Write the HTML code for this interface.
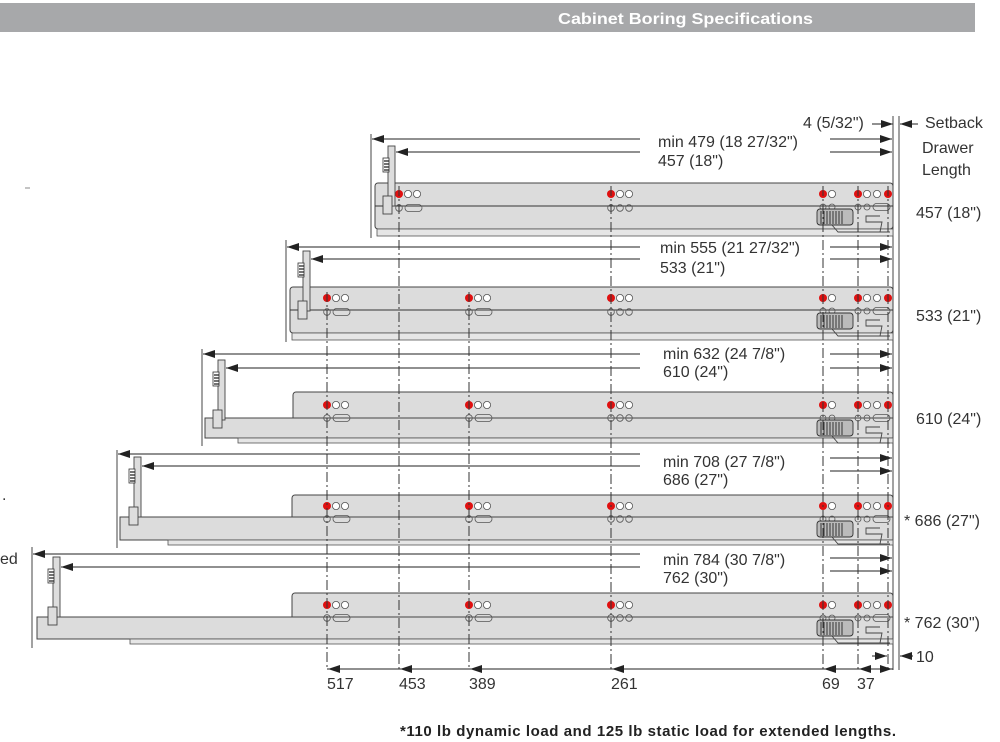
<!DOCTYPE html>
<html><head><meta charset="utf-8"><style>
html,body{margin:0;padding:0;background:#fff;}
svg{display:block;font-family:"Liberation Sans",sans-serif;}
.t{font-size:16px;fill:#333;}
</style></head><body>
<svg width="1000" height="742" viewBox="0 0 1000 742" xmlns="http://www.w3.org/2000/svg">
<defs>
<marker id="ar" markerWidth="12" markerHeight="8" refX="12" refY="4" orient="auto" markerUnits="userSpaceOnUse"><path d="M0,0 L12,4 L0,8 z" fill="#222"/></marker>
<g id="hole3"><circle cx="0" cy="0" r="4" fill="#e01010"/><circle cx="9" cy="0" r="3.6" fill="#fff" stroke="#555" stroke-width="0.8"/><circle cx="18" cy="0" r="3.6" fill="#fff" stroke="#555" stroke-width="0.8"/></g>
<g id="low3"><circle cx="0" cy="0" r="3.3" fill="none" stroke="#555" stroke-width="0.8"/><circle cx="9" cy="0" r="3.3" fill="none" stroke="#555" stroke-width="0.8"/><circle cx="18" cy="0" r="3.3" fill="none" stroke="#555" stroke-width="0.8"/></g>
<g id="lowslot"><circle cx="0" cy="0" r="3.3" fill="none" stroke="#555" stroke-width="0.8"/><rect x="6" y="-3.5" width="17" height="7" rx="3.5" fill="none" stroke="#555" stroke-width="0.8"/></g>
<g id="rightend">
<circle cx="823" cy="0" r="4" fill="#e01010"/><circle cx="832" cy="0" r="3.6" fill="#fff" stroke="#555" stroke-width="0.8"/>
<circle cx="858" cy="0" r="4" fill="#e01010"/><circle cx="867" cy="0" r="3.6" fill="#fff" stroke="#555" stroke-width="0.8"/><circle cx="877" cy="0" r="3.6" fill="#fff" stroke="#555" stroke-width="0.8"/><circle cx="888" cy="0" r="4" fill="#e01010"/>
<circle cx="823" cy="13" r="3" fill="none" stroke="#555" stroke-width="0.8"/><circle cx="832" cy="13" r="3" fill="none" stroke="#555" stroke-width="0.8"/>
<circle cx="858" cy="13" r="3" fill="none" stroke="#555" stroke-width="0.8"/><circle cx="867" cy="13" r="3" fill="none" stroke="#555" stroke-width="0.8"/><rect x="873" y="9.5" width="17" height="7" rx="3.5" fill="none" stroke="#555" stroke-width="0.8"/>
<rect x="817" y="15" width="36" height="16" rx="3" fill="#bbb" stroke="#333" stroke-width="0.9"/>
<path d="M821,17 V30 M824,17 V30 M827,17 V30 M830,17 V30 M833,17 V30 M836,17 V30 M839,17 V30 M842,17 V30" stroke="#333" stroke-width="1"/>
<path d="M832,31 L838,38 L880,38 L882,28 L866,28 L866,22 L880,22 M880,38 L890,38" fill="none" stroke="#444" stroke-width="0.9"/>
</g>
<g id="hinge"><rect x="0" y="0" width="7" height="60" fill="#ddd" stroke="#444" stroke-width="0.9"/><rect x="-5" y="12" width="6" height="14" fill="#fff" stroke="#333" stroke-width="0.8"/><path d="M-4,15 H1 M-4,18 H1 M-4,21 H1 M-4,24 H1" stroke="#222" stroke-width="1.2"/><rect x="-5" y="50" width="9" height="18" fill="#ddd" stroke="#444" stroke-width="0.9"/></g>
</defs>

<rect x="0" y="3" width="975" height="29" fill="#a7a8aa"/>
<text x="558" y="24" fill="#fff" font-weight="bold" font-size="16" textLength="255" lengthAdjust="spacingAndGlyphs">Cabinet Boring Specifications</text>

<text class="t" x="803" y="128">4 (5/32")</text>
<line x1="872" y1="124" x2="893" y2="124" stroke="#222" marker-end="url(#ar)"/>
<line x1="918" y1="124" x2="900" y2="124" stroke="#222" marker-end="url(#ar)"/>
<text class="t" x="925" y="128">Setback</text>
<text class="t" x="922" y="153">Drawer</text>
<text class="t" x="922" y="175">Length</text>
<line x1="893" y1="116" x2="893" y2="670" stroke="#444"/>
<line x1="899" y1="116" x2="899" y2="670" stroke="#444"/>

<!-- Drawer 1 -->
<g>
<line x1="371" y1="134" x2="371" y2="238" stroke="#444"/>
<rect x="375" y="183" width="518" height="46" rx="3" fill="#dcdcdc" stroke="#444"/>
<line x1="375" y1="206" x2="893" y2="206" stroke="#333"/>
<rect x="377" y="229" width="516" height="7" fill="#e6e6e6" stroke="#555" stroke-width="0.8"/>
<use href="#hole3" x="399" y="194"/><use href="#lowslot" x="399" y="208"/>
<use href="#hole3" x="611" y="194"/><use href="#low3" x="611" y="208"/>
<use href="#rightend" x="0" y="194"/>
<use href="#hinge" x="388" y="146"/>
<line x1="640" y1="139" x2="372" y2="139" stroke="#222" marker-end="url(#ar)"/>
<line x1="640" y1="152" x2="396" y2="152" stroke="#222" marker-end="url(#ar)"/>
<line x1="830" y1="139" x2="892" y2="139" stroke="#222" marker-end="url(#ar)"/>
<line x1="830" y1="152" x2="892" y2="152" stroke="#222" marker-end="url(#ar)"/>
<text class="t" x="658" y="147">min 479 (18 27/32")</text>
<text class="t" x="658" y="166">457 (18")</text>
<text class="t" x="916" y="218">457 (18")</text>
</g>

<!-- Drawer 2 -->
<g>
<line x1="286" y1="240" x2="286" y2="342" stroke="#444"/>
<rect x="290" y="287" width="603" height="46" rx="3" fill="#dcdcdc" stroke="#444"/>
<line x1="290" y1="310" x2="893" y2="310" stroke="#333"/>
<rect x="292" y="333" width="601" height="7" fill="#e6e6e6" stroke="#555" stroke-width="0.8"/>
<use href="#hole3" x="327" y="298"/><use href="#lowslot" x="327" y="312"/>
<use href="#hole3" x="469" y="298"/><use href="#lowslot" x="469" y="312"/>
<use href="#hole3" x="611" y="298"/><use href="#low3" x="611" y="312"/>
<use href="#rightend" x="0" y="298"/>
<use href="#hinge" x="303" y="251"/>
<line x1="640" y1="247" x2="287" y2="247" stroke="#222" marker-end="url(#ar)"/>
<line x1="640" y1="259" x2="311" y2="259" stroke="#222" marker-end="url(#ar)"/>
<line x1="830" y1="247" x2="892" y2="247" stroke="#222" marker-end="url(#ar)"/>
<line x1="830" y1="259" x2="892" y2="259" stroke="#222" marker-end="url(#ar)"/>
<text class="t" x="660" y="253">min 555 (21 27/32")</text>
<text class="t" x="660" y="273">533 (21")</text>
<text class="t" x="916" y="321">533 (21")</text>
</g>

<!-- Drawer 3 -->
<g>
<line x1="202" y1="349" x2="202" y2="446" stroke="#444"/>
<rect x="293" y="392" width="600" height="30" rx="3" fill="#dcdcdc" stroke="#444"/>
<rect x="205" y="418" width="688" height="20" fill="#dcdcdc" stroke="#444"/>
<rect x="238" y="438" width="655" height="5" fill="#e6e6e6" stroke="#555" stroke-width="0.8"/>
<use href="#hole3" x="327" y="405"/><use href="#lowslot" x="327" y="418"/>
<use href="#hole3" x="469" y="405"/><use href="#lowslot" x="469" y="418"/>
<use href="#hole3" x="611" y="405"/><use href="#low3" x="611" y="418"/>
<use href="#rightend" x="0" y="405"/>
<use href="#hinge" x="218" y="360"/>
<line x1="640" y1="354" x2="203" y2="354" stroke="#222" marker-end="url(#ar)"/>
<line x1="640" y1="368" x2="226" y2="368" stroke="#222" marker-end="url(#ar)"/>
<line x1="830" y1="354" x2="892" y2="354" stroke="#222" marker-end="url(#ar)"/>
<line x1="830" y1="368" x2="892" y2="368" stroke="#222" marker-end="url(#ar)"/>
<text class="t" x="663" y="359">min 632 (24 7/8")</text>
<text class="t" x="663" y="377">610 (24")</text>
<text class="t" x="916" y="424">610 (24")</text>
</g>

<!-- Drawer 4 -->
<g>
<line x1="117" y1="450" x2="117" y2="548" stroke="#444"/>
<rect x="292" y="495" width="601" height="26" rx="3" fill="#dcdcdc" stroke="#444"/>
<rect x="120" y="517" width="773" height="23" fill="#dcdcdc" stroke="#444"/>
<rect x="168" y="540" width="725" height="5" fill="#e6e6e6" stroke="#555" stroke-width="0.8"/>
<use href="#hole3" x="327" y="506"/><use href="#lowslot" x="327" y="519"/>
<use href="#hole3" x="469" y="506"/><use href="#lowslot" x="469" y="519"/>
<use href="#hole3" x="611" y="506"/><use href="#low3" x="611" y="519"/>
<use href="#rightend" x="0" y="506"/>
<use href="#hinge" x="134" y="457"/>
<line x1="640" y1="454" x2="118" y2="454" stroke="#222" marker-end="url(#ar)"/>
<line x1="640" y1="466" x2="142" y2="466" stroke="#222" marker-end="url(#ar)"/>
<line x1="830" y1="458" x2="892" y2="458" stroke="#222" marker-end="url(#ar)"/>
<line x1="830" y1="471" x2="892" y2="471" stroke="#222" marker-end="url(#ar)"/>
<text class="t" x="663" y="467">min 708 (27 7/8")</text>
<text class="t" x="663" y="485">686 (27")</text>
<text class="t" x="904" y="526">* 686 (27")</text>
</g>

<!-- Drawer 5 -->
<g>
<line x1="32" y1="547" x2="32" y2="648" stroke="#444"/>
<rect x="292" y="593" width="601" height="28" rx="3" fill="#dcdcdc" stroke="#444"/>
<rect x="37" y="617" width="856" height="22" fill="#dcdcdc" stroke="#444"/>
<rect x="130" y="639" width="763" height="5" fill="#e6e6e6" stroke="#555" stroke-width="0.8"/>
<use href="#hole3" x="327" y="605"/><use href="#lowslot" x="327" y="618"/>
<use href="#hole3" x="469" y="605"/><use href="#lowslot" x="469" y="618"/>
<use href="#hole3" x="611" y="605"/><use href="#low3" x="611" y="618"/>
<use href="#rightend" x="0" y="605"/>
<use href="#hinge" x="53" y="557"/>
<line x1="640" y1="554" x2="33" y2="554" stroke="#222" marker-end="url(#ar)"/>
<line x1="640" y1="567" x2="61" y2="567" stroke="#222" marker-end="url(#ar)"/>
<line x1="830" y1="558" x2="892" y2="558" stroke="#222" marker-end="url(#ar)"/>
<line x1="830" y1="571" x2="892" y2="571" stroke="#222" marker-end="url(#ar)"/>
<text class="t" x="663" y="565">min 784 (30 7/8")</text>
<text class="t" x="663" y="583">762 (30")</text>
<text class="t" x="904" y="628">* 762 (30")</text>
</g>

<!-- dash-dot verticals (on top) -->
<g stroke="#333" stroke-width="1" stroke-dasharray="10,3,2,3">
<line x1="399" y1="186" x2="399" y2="670"/>
<line x1="327" y1="292" x2="327" y2="670"/>
<line x1="469" y1="292" x2="469" y2="670"/>
<line x1="611" y1="186" x2="611" y2="670"/>
<line x1="823" y1="186" x2="823" y2="670"/>
<line x1="858" y1="186" x2="858" y2="670"/>
<line x1="888" y1="186" x2="888" y2="670"/>
</g>

<!-- bottom dimension line -->
<line x1="327" y1="669" x2="893" y2="669" stroke="#222"/>
<g stroke="#222">
<line x1="345" y1="669" x2="328" y2="669" marker-end="url(#ar)"/>
<line x1="417" y1="669" x2="400" y2="669" marker-end="url(#ar)"/>
<line x1="487" y1="669" x2="470" y2="669" marker-end="url(#ar)"/>
<line x1="629" y1="669" x2="612" y2="669" marker-end="url(#ar)"/>
<line x1="841" y1="669" x2="824" y2="669" marker-end="url(#ar)"/>
<line x1="875" y1="669" x2="859" y2="669" marker-end="url(#ar)"/>
<line x1="872" y1="669" x2="892" y2="669" marker-end="url(#ar)"/>
<line x1="872" y1="656" x2="887" y2="656" marker-end="url(#ar)"/>
<line x1="913" y1="656" x2="900" y2="656" marker-end="url(#ar)"/>
</g>
<text class="t" x="916" y="662">10</text>
<text class="t" x="327" y="689">517</text>
<text class="t" x="399" y="689">453</text>
<text class="t" x="469" y="689">389</text>
<text class="t" x="611" y="689">261</text>
<text class="t" x="822" y="689">69</text>
<text class="t" x="857" y="689">37</text>

<text x="400" y="736" font-size="15" font-weight="bold" fill="#222" textLength="496" lengthAdjust="spacing">*110 lb dynamic load and 125 lb static load for extended lengths.</text>

<text class="t" x="0" y="564">ed</text>
<text class="t" x="2" y="500">.</text>
<line x1="25" y1="188" x2="30" y2="188" stroke="#888"/>
</svg>
</body></html>
